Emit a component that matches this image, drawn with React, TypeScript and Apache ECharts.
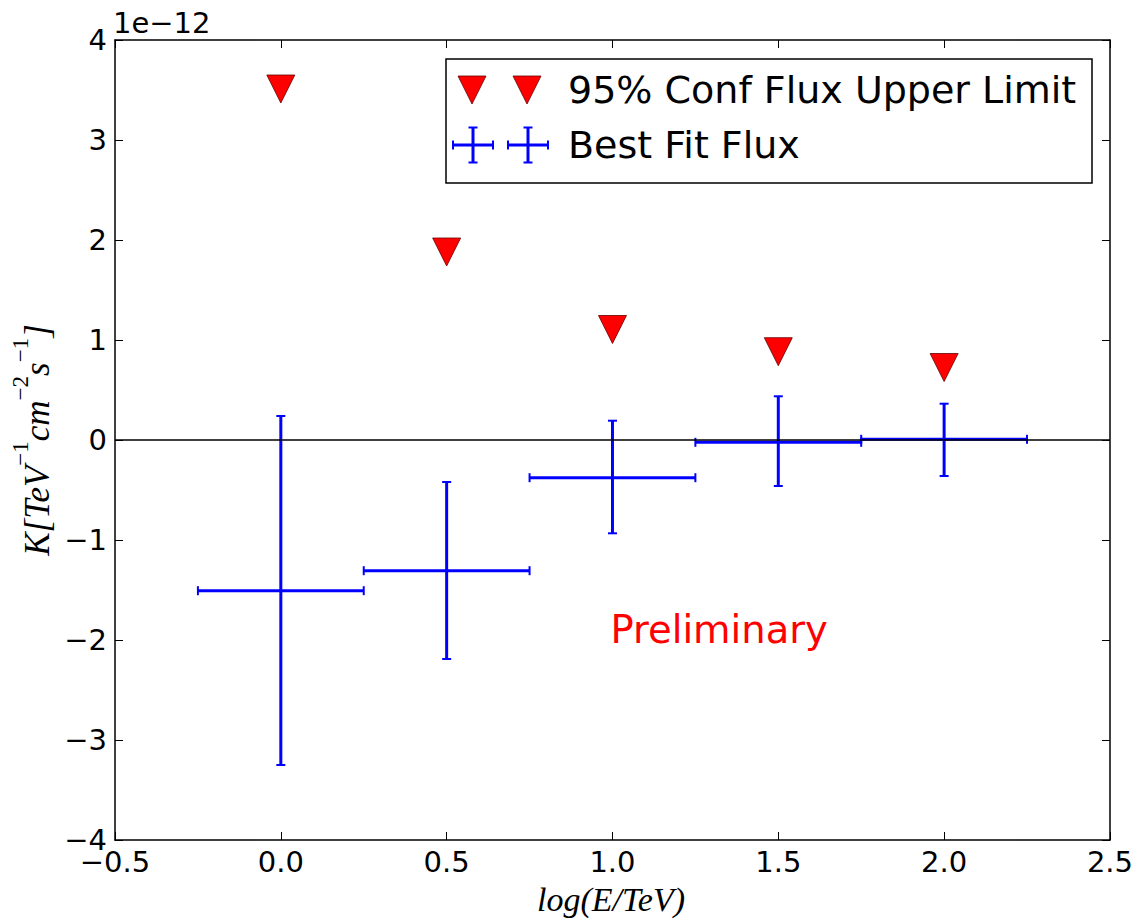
import React, { useEffect, useRef } from "react";
import * as echarts from "echarts";

// log(E/TeV) bin centres and half widths
const energyLog = [0, 0.5, 1.0, 1.5, 2.0];
const binHalfWidth = [0.25, 0.25, 0.25, 0.25, 0.25];
// Best-fit flux (units of 1e-12 TeV^-1 cm^-2 s^-1)
const bestFit = [-1.507, -1.307, -0.377, -0.023, 0.007];
const bestFitUpper = [0.24, -0.42, 0.193, 0.437, 0.363];
const bestFitLower = [-3.25, -2.19, -0.933, -0.46, -0.36];
// 95% confidence upper limits (units of 1e-12)
const upperLimit = [3.51, 1.88, 1.105, 0.883, 0.725];

const xMin = -0.5, xMax = 2.5, xStep = 0.5;
const yMin = -4, yMax = 4, yStep = 1;
const yOffsetLabel = "1e\u221212";
const legendNames = ["95% Conf Flux Upper Limit", "Best Fit Flux"];
const annotationText = "Preliminary";
const annotationAt = [1.0, -2.0];

const minus = (s: string) => s.replace("-", "\u2212");

export default function App() {
  const ref = useRef<HTMLDivElement>(null);
  useEffect(() => {
    if (!ref.current) return;
    const chart = echarts.init(ref.current, null, { renderer: "svg" });
    const sans = "DejaVu Sans";
    const serif = "Liberation Serif";
    const spine = { show: true, onZero: false, lineStyle: { color: "#000", width: 1.5 } };
    const tick = { show: true, inside: true, length: 8, lineStyle: { color: "#000", width: 1 } };
    const tickLabel = { fontSize: 29, fontFamily: sans, color: "#000" };

    const errData = energyLog.map((x, i) => [x, bestFit[i], bestFitLower[i], bestFitUpper[i], binHalfWidth[i]]);
    const ulData = energyLog.map((x, i) => [x, upperLimit[i]]);

    const blue = "#0000ff";
    const cap = 4.5;
    const bw = 3;
    const cw = 2;

    const legendX = 446, legendY = 59, legendW = 646, legendH = 124;
    const tri = (cx: number, cy: number) => ({
      type: "polygon",
      shape: { points: [[cx - 14, cy - 14], [cx + 14, cy - 14], [cx, cy + 14]] },
      style: { fill: "#ff0000", stroke: "#600", lineWidth: 0.8 },
    });
    const cross = (cx: number, cy: number) => ({
      type: "group",
      children: [
        { type: "line", shape: { x1: cx - 20, y1: cy, x2: cx + 20, y2: cy }, style: { stroke: blue, lineWidth: bw } },
        { type: "line", shape: { x1: cx, y1: cy - 17.5, x2: cx, y2: cy + 17.5 }, style: { stroke: blue, lineWidth: bw } },
        { type: "line", shape: { x1: cx - cap, y1: cy - 17.5, x2: cx + cap, y2: cy - 17.5 }, style: { stroke: blue, lineWidth: cw } },
        { type: "line", shape: { x1: cx - cap, y1: cy + 17.5, x2: cx + cap, y2: cy + 17.5 }, style: { stroke: blue, lineWidth: cw } },
        { type: "line", shape: { x1: cx - 20, y1: cy - cap, x2: cx - 20, y2: cy + cap }, style: { stroke: blue, lineWidth: cw } },
        { type: "line", shape: { x1: cx + 20, y1: cy - cap, x2: cx + 20, y2: cy + cap }, style: { stroke: blue, lineWidth: cw } },
      ],
    });

    chart.setOption({
      animation: false,
      backgroundColor: "#fff",
      grid: { left: 115, right: 26, top: 40, bottom: 81, containLabel: false },
      xAxis: [
        {
          type: "value", min: xMin, max: xMax, interval: xStep, position: "bottom",
          axisLine: spine, axisTick: tick, splitLine: { show: false },
          axisLabel: { ...tickLabel, lineHeight: 20, margin: 12, formatter: (v: number) => minus(v.toFixed(1)) },
        },
        {
          type: "value", min: xMin, max: xMax, interval: xStep, position: "top",
          axisLine: spine, axisTick: tick, splitLine: { show: false }, axisLabel: { show: false },
        },
      ],
      yAxis: [
        {
          type: "value", min: yMin, max: yMax, interval: yStep, position: "left",
          axisLine: spine, axisTick: tick, splitLine: { show: false },
          axisLabel: { ...tickLabel, lineHeight: 18, margin: 8, formatter: (v: number) => minus(String(v)) },
        },
        {
          type: "value", min: yMin, max: yMax, interval: yStep, position: "right",
          axisLine: spine, axisTick: tick, splitLine: { show: false }, axisLabel: { show: false },
        },
      ],
      series: [
        {
          type: "scatter",
          name: "zero",
          data: [],
          z: 1,
          markLine: {
            silent: true,
            symbol: ["none", "none"],
            label: { show: false },
            lineStyle: { color: "#000", width: 1.5, type: "solid" },
            data: [{ yAxis: 0 }],
          },
        },
        {
          type: "custom",
          name: legendNames[1],
          data: errData,
          z: 3,
          encode: { x: 0, y: 1 },
          renderItem: (params: any, api: any) => {
            const x = api.value(0), y = api.value(1), lo = api.value(2), hi = api.value(3), dx = api.value(4);
            const c = api.coord([x, y]);
            const left = api.coord([x - dx, y]);
            const right = api.coord([x + dx, y]);
            const top = api.coord([x, hi]);
            const bot = api.coord([x, lo]);
            const st = { stroke: blue, lineWidth: bw };
            const cs = { stroke: blue, lineWidth: cw };
            return {
              type: "group",
              children: [
                { type: "line", shape: { x1: left[0], y1: c[1], x2: right[0], y2: c[1] }, style: st },
                { type: "line", shape: { x1: c[0], y1: top[1], x2: c[0], y2: bot[1] }, style: st },
                { type: "line", shape: { x1: c[0] - cap, y1: top[1], x2: c[0] + cap, y2: top[1] }, style: cs },
                { type: "line", shape: { x1: c[0] - cap, y1: bot[1], x2: c[0] + cap, y2: bot[1] }, style: cs },
                { type: "line", shape: { x1: left[0], y1: c[1] - cap, x2: left[0], y2: c[1] + cap }, style: cs },
                { type: "line", shape: { x1: right[0], y1: c[1] - cap, x2: right[0], y2: c[1] + cap }, style: cs },
              ],
            };
          },
        },
        {
          type: "scatter",
          name: legendNames[0],
          data: ulData,
          z: 4,
          symbol: "triangle",
          symbolRotate: 180,
          symbolSize: [28, 28],
          itemStyle: { color: "#ff0000", borderColor: "#600", borderWidth: 0.8, opacity: 1 },
          markPoint: {
            silent: true,
            symbol: "circle",
            symbolSize: 0,
            itemStyle: { color: "transparent" },
            label: {
              show: true,
              formatter: annotationText,
              position: [0, 0],
              align: "left",
              verticalAlign: "bottom",
              offset: [-2, 9],
              color: "#ff0000",
              fontSize: 38.5,
              fontFamily: sans,
            },
            data: [{ coord: annotationAt }],
          },
        },
      ],
      graphic: [
        {
          type: "text", left: 113, top: 8,
          style: { text: yOffsetLabel, fontSize: 29, fontFamily: sans, fill: "#000" },
        },
        {
          type: "text", x: 611, y: 899,
          style: {
            text: "log(E/TeV)", fontSize: 34, fontFamily: serif, fontStyle: "italic",
            fill: "#000", align: "center", verticalAlign: "middle",
          },
        },
        {
          type: "text", x: 32, y: 440, rotation: Math.PI / 2,
          style: {
            text: "{n|K[TeV}{s|\u22121}{n|cm}{s|\u22122}{n|s}{s|\u22121}{n|]}",
            align: "center", verticalAlign: "middle", fill: "#000",
            rich: {
              n: { fontSize: 35, fontFamily: serif, fontStyle: "italic", lineHeight: 46, verticalAlign: "bottom", fill: "#000" },
              s: { fontSize: 23, fontFamily: serif, lineHeight: 46, verticalAlign: "top", fill: "#000" },
            },
          },
        },
        {
          type: "group",
          children: [
            {
              type: "rect",
              shape: { x: legendX, y: legendY, width: legendW, height: legendH },
              style: { fill: "#fff", stroke: "#000", lineWidth: 1.5 },
            },
            tri(472, 90),
            tri(527, 90),
            cross(473, 145),
            cross(528, 145),
            {
              type: "text", x: 568, y: 90,
              style: { text: legendNames[0], fontSize: 38, fontFamily: sans, fill: "#000", verticalAlign: "middle" },
            },
            {
              type: "text", x: 568, y: 145,
              style: { text: legendNames[1], fontSize: 38, fontFamily: sans, fill: "#000", verticalAlign: "middle" },
            },
          ],
        },
      ],
    });
    return () => chart.dispose();
  }, []);
  return <div ref={ref} style={{ position: "fixed", left: 0, top: 0, width: 1136, height: 921 }} />;
}
